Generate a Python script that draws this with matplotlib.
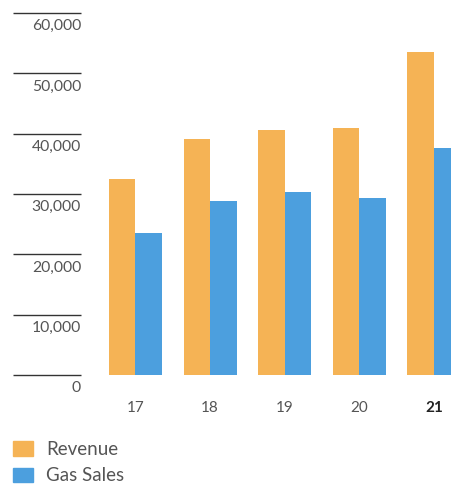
import numpy as np
import matplotlib.pyplot as plt
from matplotlib.patches import Patch

# ---------------------------------------------------------------
# data
# ---------------------------------------------------------------
years = ["17", "18", "19", "20", "21"]
revenue = [32500, 39100, 40600, 40900, 53500]
gas_sales = [23500, 28900, 30300, 29400, 37600]
y_ticks = [0, 10000, 20000, 30000, 40000, 50000, 60000]

rev_color = "#F5B355"
gas_color = "#4C9FDE"
text_gray = "#555555"

plt.rcParams["font.family"] = ["Lato", "DejaVu Sans"]

fig = plt.figure(figsize=(4.52, 4.86), dpi=100)
ax = fig.add_axes([0, (486 - 375) / 486, 1, 375 / 486])

x = np.arange(len(years))
w = 0.355
ax.bar(x - w / 2, revenue, width=w, color=rev_color, linewidth=0)
ax.bar(x + w / 2, gas_sales, width=w, color=gas_color, linewidth=0)

ax.set_xlim(-1.816, 4.243)
ax.set_ylim(0, 62157)

# short "gridlines" with labels below them on the left
trans = ax.get_yaxis_transform()
for v in y_ticks:
    ax.plot([13 / 452, 81 / 452], [v, v], color="#333333", lw=1.0,
            transform=trans, clip_on=False, solid_capstyle="butt")
    ax.annotate(f"{v:,}", xy=(81 / 452, v), xycoords=trans,
                xytext=(0, -4.5), textcoords="offset points",
                ha="right", va="top", fontsize=11.3, color=text_gray)

ax.set_xticks(x)
ax.set_xticklabels(years, fontsize=11, color=text_gray)
ax.get_xticklabels()[-1].set_fontweight("bold")
ax.get_xticklabels()[-1].set_color("#222222")
ax.tick_params(axis="x", length=0, pad=18.5)
ax.set_yticks([])
for s in ax.spines.values():
    s.set_visible(False)

handles = [Patch(color=rev_color, label="Revenue"),
           Patch(color=gas_color, label="Gas Sales")]
fig.legend(handles=handles, loc="upper left",
           bbox_to_anchor=(13 / 452, (486 - 441) / 486),
           frameon=False, fontsize=13.5, handlelength=1.05, handleheight=0.8,
           handletextpad=0.7, labelspacing=0.5, borderpad=0, borderaxespad=0,
           labelcolor=text_gray)

fig.savefig("out.png", dpi=100)
